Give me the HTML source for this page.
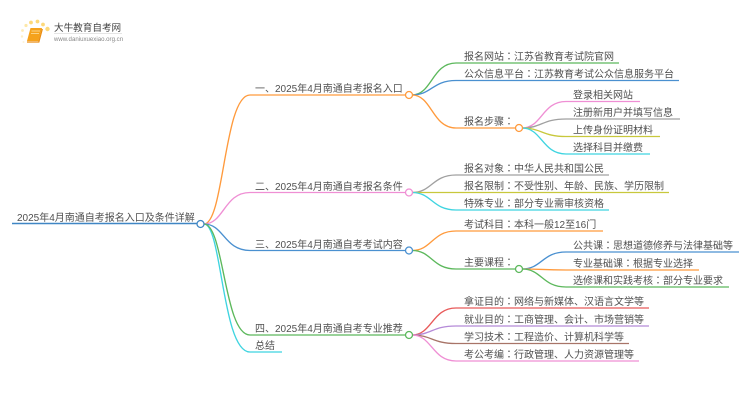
<!DOCTYPE html>
<html><head><meta charset="utf-8"><style>
html,body{margin:0;padding:0;background:#fff}
svg{display:block}
text{font-family:"Liberation Sans","Noto Sans CJK SC",sans-serif;font-size:10px;fill:#505050}
.c{font-family:"Noto Sans CJK TC",sans-serif}
path{fill:none;stroke-width:1.35}
circle.n{fill:#fff;stroke-width:1.3}
</style></head><body>
<svg width="750" height="410" viewBox="0 0 750 410" xmlns="http://www.w3.org/2000/svg">
<!-- logo -->
<g>
<circle cx="47.500" cy="29" r="2.200" fill="#fdd97a"/><circle cx="43" cy="24.500" r="1.900" fill="#fdd97a"/><circle cx="37.500" cy="21.500" r="1.900" fill="#fdd97a"/><circle cx="31" cy="22.500" r="1.900" fill="#fdd97a"/><circle cx="26" cy="25.500" r="1.600" fill="#fde8a8"/><circle cx="22.500" cy="30.500" r="1.400" fill="#fdebb8"/><circle cx="22" cy="36.500" r="1.200" fill="#fdf0c8"/><circle cx="23.500" cy="42" r="1" fill="#fdf3d8"/>
<path d="M30.500 28 L42 28 L38.500 41 L27 41 Z" style="fill:#f5a21c;stroke:none"/>
<path d="M27 42 L38.800 42 L42.300 29" style="stroke:#ea8c12;stroke-width:1.300"/>
<path d="M31.500 31 L40 31 M31 33.500 L39 33.500" style="stroke:#fde3a8;stroke-width:.8"/>
<text x="54" y="31" style="font-size:9.600px;fill:#444">大牛教育自考网</text>
<path d="M54 33.500 L122 33.500" style="stroke:#ddd;stroke-width:.7"/>
<text x="54" y="41" style="font-size:6.100px;fill:#888">www.daniuxuexiao.org.cn</text>
</g>

<!-- root -->
<path d="M12 223.500 L197 223.500" stroke="#3f86c4" style="stroke-width:1.600"/>
<text x="17" y="221">2025年4月南通自考报名入口及条件详解</text>

<!-- main branches -->
<path d="M204 224 C224 224 224 95 250 95 L405.500 95" stroke="#ff9a3c"/>
<path d="M204 224 C224 224 224 192.500 250 192.500 L405.500 192.500" stroke="#ef8fd4"/>
<path d="M204 224 C224 224 224 250.500 250 250.500 L405.500 250.500" stroke="#4a90d0"/>
<path d="M204 224 C222 224 222 352 250 352 L282 352" stroke="#3fd4e0"/>
<path d="M204 224 C224 224 224 335 250 335 L405.500 335" stroke="#5cb85c"/>

<text x="255" y="92">一、2025年4月南通自考报名入口</text>
<text x="255" y="190">二、2025年4月南通自考报名条件</text>
<text x="255" y="248">三、2025年4月南通自考考试内容</text>
<text x="255" y="332">四、2025年4月南通自考专业推荐</text>
<text x="255" y="349">总结</text>

<!-- branch 1 children -->
<path d="M412 95 C432 95 432 63 456 63 L619 63" stroke="#5cb85c"/>
<path d="M412 95 C432 95 432 80.500 456 80.500 L679 80.500" stroke="#4a90d0"/>
<path d="M412 95 C432 95 432 128 456 128 L515.500 128" stroke="#ff9a3c"/>
<text x="464" y="60">报名网站<tspan class="c">：</tspan>江苏省教育考试院官网</text>
<text x="464" y="77.500">公众信息平台<tspan class="c">：</tspan>江苏教育考试公众信息服务平台</text>
<text x="464" y="125">报名步骤<tspan class="c">：</tspan></text>

<path d="M522 128 C542 128 542 101.500 566 101.500 L640 101.500" stroke="#ef8fd4"/>
<path d="M522 128 C542 128 542 119 566 119 L680 119" stroke="#a0a0a0"/>
<path d="M522 128 C542 128 542 136.500 566 136.500 L660 136.500" stroke="#c8c83c"/>
<path d="M522 128 C542 128 542 154 566 154 L650 154" stroke="#3fd4e0"/>
<text x="573" y="98.500">登录相关网站</text>
<text x="573" y="116">注册新用户并填写信息</text>
<text x="573" y="133.500">上传身份证明材料</text>
<text x="573" y="151">选择科目并缴费</text>

<!-- branch 2 children -->
<path d="M412 192.500 C432 192.500 432 175 456 175 L609 175" stroke="#a0a0a0"/>
<path d="M412 192.500 L669 192.500" stroke="#c8c83c"/>
<path d="M412 192.500 C432 192.500 432 210 456 210 L609 210" stroke="#3fd4e0"/>
<text x="464" y="172">报名对象<tspan class="c">：</tspan>中华人民共和国公民</text>
<text x="464" y="189.500">报名限制<tspan class="c">：</tspan>不受性别、年龄、民族、学历限制</text>
<text x="464" y="207">特殊专业<tspan class="c">：</tspan>部分专业需审核资格</text>

<!-- branch 3 children -->
<path d="M412 250.500 C432 250.500 432 231 456 231 L603 231" stroke="#ff9a3c"/>
<path d="M412 250.500 C432 250.500 432 269 456 269 L515.500 269" stroke="#5cb85c"/>
<text x="464" y="228">考试科目<tspan class="c">：</tspan>本科一般12至16门</text>
<text x="464" y="266">主要课程<tspan class="c">：</tspan></text>

<path d="M522 269 C542 269 542 252 566 252 L739 252" stroke="#4a90d0"/>
<path d="M522 269 C542 269 542 270 566 270 L699 270" stroke="#ff9a3c"/>
<path d="M522 269 C542 269 542 287 566 287 L729 287" stroke="#5cb85c"/>
<text x="573" y="249">公共课<tspan class="c">：</tspan>思想道德修养与法律基础等</text>
<text x="573" y="267">专业基础课<tspan class="c">：</tspan>根据专业选择</text>
<text x="573" y="284">选修课和实践考核<tspan class="c">：</tspan>部分专业要求</text>

<!-- branch 4 children -->
<path d="M412 335 C432 335 432 308 456 308 L649 308" stroke="#e85a5a"/>
<path d="M412 335 C432 335 432 326 456 326 L649 326" stroke="#b58ad8"/>
<path d="M412 335 C432 335 432 343.500 456 343.500 L629 343.500" stroke="#a87468"/>
<path d="M412 335 C432 335 432 361 456 361 L639 361" stroke="#ef8fd4"/>
<text x="464" y="305">拿证目的<tspan class="c">：</tspan>网络与新媒体、汉语言文学等</text>
<text x="464" y="323">就业目的<tspan class="c">：</tspan>工商管理、会计、市场营销等</text>
<text x="464" y="340.500">学习技术<tspan class="c">：</tspan>工程造价、计算机科学等</text>
<text x="464" y="358">考公考编<tspan class="c">：</tspan>行政管理、人力资源管理等</text>

<!-- nodes -->
<circle class="n" cx="200.500" cy="224" r="3.500" stroke="#3f86c4"/>
<circle class="n" cx="409" cy="95" r="3.500" stroke="#ff9a3c"/>
<circle class="n" cx="409" cy="192.500" r="3.500" stroke="#ef8fd4"/>
<circle class="n" cx="409" cy="250.500" r="3.500" stroke="#4a90d0"/>
<circle class="n" cx="409" cy="335" r="3.500" stroke="#5cb85c"/>
<circle class="n" cx="519" cy="128" r="3.500" stroke="#ff9a3c"/>
<circle class="n" cx="519" cy="269" r="3.500" stroke="#5cb85c"/>
</svg>
</body></html>
